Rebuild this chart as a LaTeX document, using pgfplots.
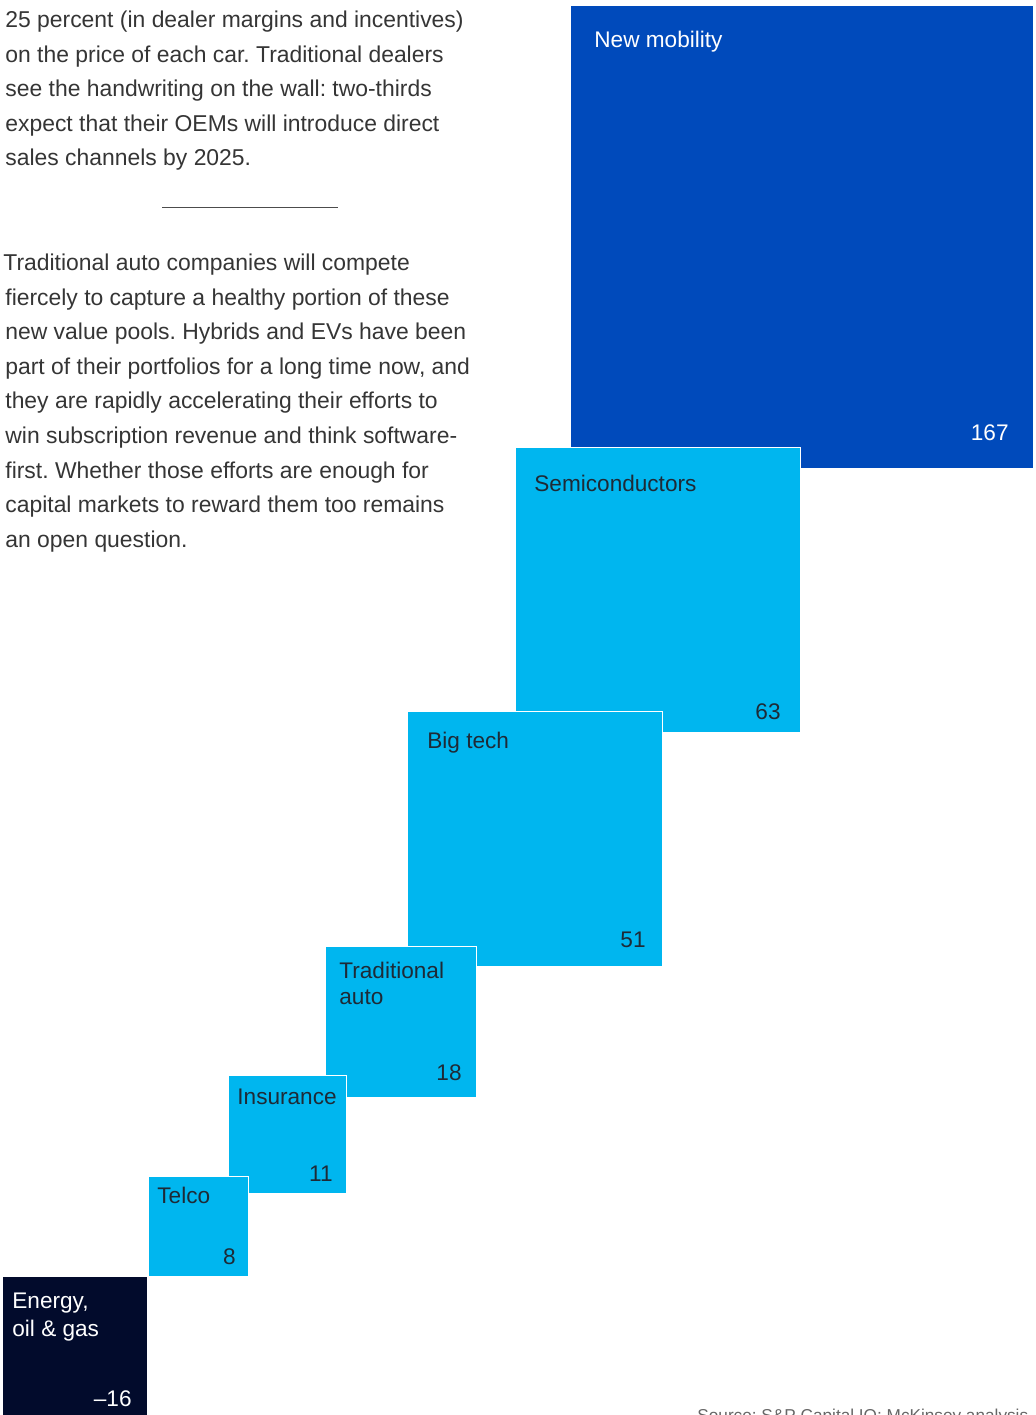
\documentclass[border=0pt]{standalone}
\usepackage{pgfplots}
\pgfplotsset{compat=1.18}
\usepackage{fontspec}
\setmainfont{Liberation Sans}
\frenchspacing
\definecolor{mob}{HTML}{004ABB}
\definecolor{cy}{HTML}{00B6EF}
\definecolor{navy}{HTML}{020B2C}
\definecolor{txt}{HTML}{353535}
\definecolor{lbl}{HTML}{1E2A36}
\newcommand{\bodyf}{\fontsize{11.45}{13}\selectfont}
\newcommand{\lblf}{\fontsize{11.3}{13}\selectfont}
\begin{document}
\begin{tikzpicture}
\begin{axis}[name=ax, width=517.5pt, height=707.5pt, scale only axis,
  xmin=0, xmax=1035, ymin=0, ymax=1415, y dir=reverse, hide axis, clip=true]
% squares (pixel coordinates, side = 35.8*sqrt(|value|))
\addplot[fill=mob, draw=none] coordinates {(571,6) (1033,6) (1033,468) (571,468)} -- cycle;
\addplot[fill=cy, draw=white, line width=0.5pt] coordinates {(515,447) (800,447) (800,732) (515,732)} -- cycle;
\addplot[fill=cy, draw=white, line width=0.5pt] coordinates {(407,711) (662,711) (662,966) (407,966)} -- cycle;
\addplot[fill=cy, draw=white, line width=0.5pt] coordinates {(325,946) (476,946) (476,1097) (325,1097)} -- cycle;
\addplot[fill=cy, draw=white, line width=0.5pt] coordinates {(228,1075) (346,1075) (346,1193) (228,1193)} -- cycle;
\addplot[fill=cy, draw=white, line width=0.5pt] coordinates {(148,1176) (248,1176) (248,1276) (148,1276)} -- cycle;
\addplot[fill=navy, draw=none] coordinates {(3,1277) (147,1277) (147,1421) (3,1421)} -- cycle;
% separator
\addplot[black!70, line width=0.5pt] coordinates {(162,207) (338,207)};
% square labels
\begin{scope}[every node/.style={inner sep=0pt, font=\lblf}]
\node[anchor=base west, text=white] at (axis cs:594,47) {New mobility};
\node[anchor=base east, text=white] at (axis cs:1009,440) {167};
\node[anchor=base west, text=lbl] at (axis cs:534,491) {Semiconductors};
\node[anchor=base east, text=lbl] at (axis cs:781,719) {63};
\node[anchor=base west, text=lbl] at (axis cs:427,748) {Big tech};
\node[anchor=base east, text=lbl] at (axis cs:646,947) {51};
\node[anchor=base west, text=lbl] at (axis cs:339,978) {Traditional};
\node[anchor=base west, text=lbl] at (axis cs:339,1004) {auto};
\node[anchor=base east, text=lbl] at (axis cs:462,1080) {18};
\node[anchor=base west, text=lbl] at (axis cs:237,1104) {Insurance};
\node[anchor=base east, text=lbl] at (axis cs:333,1181) {11};
\node[anchor=base west, text=lbl] at (axis cs:157,1203) {Telco};
\node[anchor=base east, text=lbl] at (axis cs:236,1264) {8};
\node[anchor=base west, text=white] at (axis cs:12,1308) {Energy,};
\node[anchor=base west, text=white] at (axis cs:12,1336) {oil \& gas};
\node[anchor=base east, text=white] at (axis cs:132,1406) {\textendash16};
\end{scope}
% body text
\begin{scope}[every node/.style={inner sep=0pt, font=\bodyf, text=txt, anchor=base west}]
\node at (axis cs:5,27) {25 percent (in dealer margins and incentives)};
\node at (axis cs:5,62) {on the price of each car. Traditional dealers};
\node at (axis cs:5,96) {see the handwriting on the wall: two-thirds};
\node at (axis cs:5,131) {expect that their OEMs will introduce direct};
\node at (axis cs:5,165) {sales channels by 2025.};
\node at (axis cs:3,270) {Traditional auto companies will compete};
\node at (axis cs:5,305) {fiercely to capture a healthy portion of these};
\node at (axis cs:5,339) {new value pools. Hybrids and EVs have been};
\node at (axis cs:5,374) {part of their portfolios for a long time now, and};
\node at (axis cs:5,408) {they are rapidly accelerating their efforts to};
\node at (axis cs:5,443) {win subscription revenue and think software-};
\node at (axis cs:5,478) {first. Whether those efforts are enough for};
\node at (axis cs:5,512) {capital markets to reward them too remains};
\node at (axis cs:5,547) {an open question.};
\end{scope}
\node[anchor=base west, inner sep=0pt, text=black!60, font=\fontsize{8.6}{10}\selectfont] at (axis cs:697,1421) {Source: S\&P Capital IQ; McKinsey analysis};
\end{axis}
\pgfresetboundingbox
\path (ax.south west) rectangle (ax.north east);
\end{tikzpicture}
\end{document}
